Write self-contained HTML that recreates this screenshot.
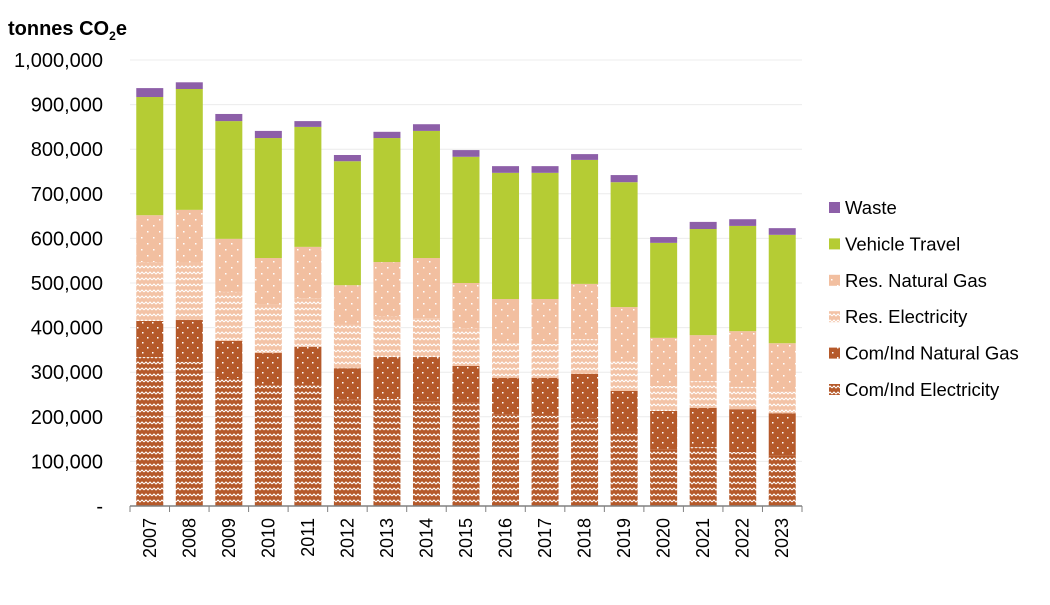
<!DOCTYPE html>
<html><head><meta charset="utf-8"><style>
body{margin:0;background:#fff;font-family:"Liberation Sans",sans-serif}
svg text{font-family:"Liberation Sans",sans-serif;fill:#000}
</style></head><body>
<svg width="1050" height="600" viewBox="0 0 1050 600">
<defs>
<pattern id="pWaveB" width="8" height="6" patternUnits="userSpaceOnUse"><rect width="8" height="6" fill="#B5592A"/><path d="M0,4 L2,2 L4,4 L6,2 L8,4" stroke="#fff" stroke-width="1" fill="none"/></pattern>
<pattern id="pDotB" width="10" height="10" patternUnits="userSpaceOnUse"><rect width="10" height="10" fill="#B5592A"/><rect x="2" y="2" width="1.5" height="1.5" fill="#fff"/><rect x="7" y="7" width="1.5" height="1.5" fill="#fff"/></pattern>
<pattern id="pWaveP" width="8" height="6" patternUnits="userSpaceOnUse"><rect width="8" height="6" fill="#F3C3A6"/><path d="M0,4 L2,2 L4,4 L6,2 L8,4" stroke="#fff" stroke-width="1" fill="none"/></pattern>
<pattern id="pDotP" width="12" height="12" patternUnits="userSpaceOnUse"><rect width="12" height="12" fill="#F2BFA0"/><rect x="3" y="3" width="1.5" height="1.5" fill="#fff"/><rect x="9" y="9" width="1.5" height="1.5" fill="#fff"/></pattern>
</defs>
<g id="grid"></g><g id="bars"></g><g id="axes"></g><g id="legend"></g>
<text x="8" y="35" font-size="20" font-weight="bold">tonnes CO<tspan font-size="12" dy="5">2</tspan><tspan dy="-5">e</tspan></text>
</svg>
<script>
const years=["2007","2008","2009","2010","2011","2012","2013","2014","2015","2016","2017","2018","2019","2020","2021","2022","2023"];
const comElec=[334,323,287,271,271,238,240,235,233,206,202,197,166,126,132,121,114];
const comGas=[81,94,83,72,86,71,94,99,81,81,85,99,92,87,88,96,94];
const resElec=[132,128,110,108,109,97,92,87,85,78,76,78,67,56,60,50,48];
const resGas=[105,119,119,105,115,89,121,135,101,99,101,124,121,108,103,125,109];
const vehicle=[265,271,264,269,269,278,278,285,283,283,283,278,280,213,238,236,243];
const waste=[20,15,16,16,13,14,14,15,15,15,15,13,16,13,16,15,15];
const yTicks=[0,100,200,300,400,500,600,700,800,900,1000];
const seriesNames=["Com/Ind Electricity","Com/Ind Natural Gas","Res. Electricity","Res. Natural Gas","Vehicle Travel","Waste"];
const series=[comElec,comGas,resElec,resGas,vehicle,waste];
const fills=["url(#pWaveB)","url(#pDotB)","url(#pWaveP)","url(#pDotP)","#B5CC34","#8D5FA8"];
const NS="http://www.w3.org/2000/svg";
const x0=130,x1=802,y0=506,yTop=60;
const yS=v=>y0-(v/1000)*(y0-yTop);
const step=(x1-x0)/years.length;
const xC=i=>x0+step*(i+0.5);
const bw=27;
function mk(t,a,p){const e=document.createElementNS(NS,t);for(const k in a)e.setAttribute(k,a[k]);p.appendChild(e);return e;}
const grid=document.getElementById('grid'),bars=document.getElementById('bars'),axes=document.getElementById('axes'),leg=document.getElementById('legend');
yTicks.forEach(v=>{
 if(v>0){const l=mk('line',{x1:x0,x2:x1,y1:yS(v),y2:yS(v),stroke:'#ececec','stroke-width':1},grid);
 
 }
 const t=mk('text',{x:103,y:yS(v)+7,'text-anchor':'end','font-size':20},axes);
 t.textContent=v===0?'-':(v*1000).toLocaleString('en-US');
 
 
});
years.forEach((yr,i)=>{
 let cum=0;
 series.forEach((s,k)=>{
  const top=cum+s[i];
  const r=mk('rect',{x:xC(i)-bw/2,y:yS(top),width:bw,height:yS(cum)-yS(top),fill:fills[k]},bars);
  
  
  cum=top;
 });
 const t=mk('text',{x:0,y:0,'text-anchor':'end','font-size':18,transform:`translate(${xC(i)+6},518) rotate(-90)`},axes);
 t.textContent=yr;
 
 
});
const ax=mk('line',{x1:x0,x2:x1,y1:y0,y2:y0,stroke:'#808080','stroke-width':1.5},axes);


for(let i=0;i<=years.length;i++){mk('line',{x1:x0+step*i,x2:x0+step*i,y1:y0,y2:y0+6,stroke:'#808080'},axes);}
const order=[5,4,3,2,1,0];
order.forEach((k,j)=>{
 const y=208+j*36.4;
 const r=mk('rect',{x:829,y:y-6,width:11,height:11,fill:fills[k]},leg);
 
 
 const t=mk('text',{x:845,y:y+6,'font-size':18.5},leg);
 t.textContent=seriesNames[k];
 
 
});
</script>
</body></html>
